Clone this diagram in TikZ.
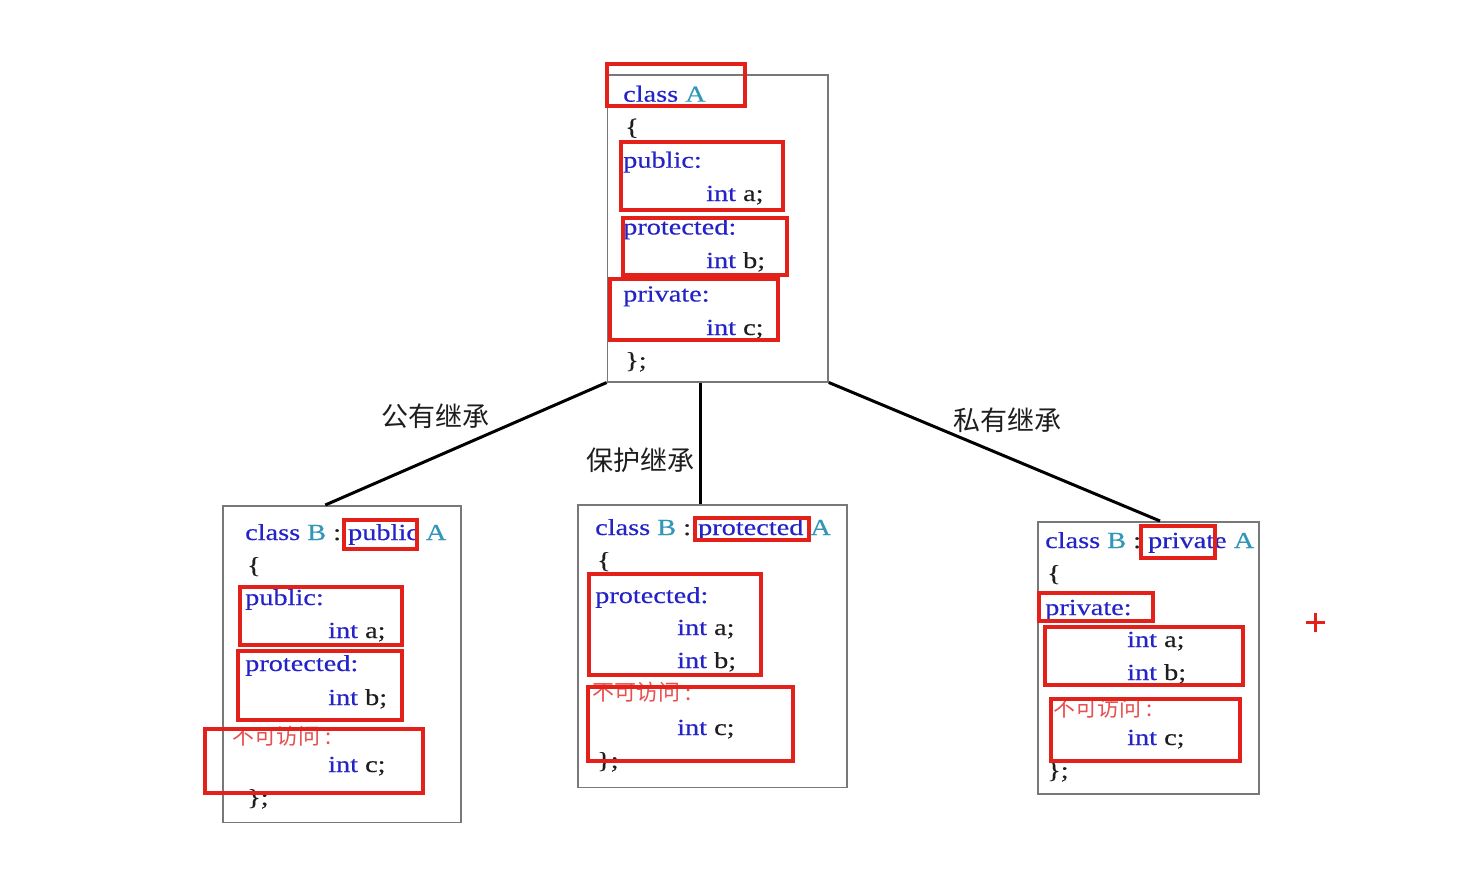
\documentclass[tikz,border=0pt]{standalone}
\usepackage{fontspec}
\setmainfont{Liberation Serif}[FakeStretch=1.23,FakeBold=0.4]
\newfontfamily\cjk{Noto Sans CJK SC}
\usetikzlibrary{calc}
\definecolor{kw}{RGB}{35,35,200}
\definecolor{cls}{RGB}{50,150,185}
\definecolor{dk}{RGB}{30,30,30}
\definecolor{redbox}{RGB}{228,32,26}
\definecolor{cjkred}{RGB}{232,80,80}
\definecolor{border}{RGB}{120,120,120}
\tikzset{
  classbox/.style={draw=border, line width=1.5pt, inner sep=0pt, anchor=north west},
  conn/.style={draw=black, line width=3pt},
  txt/.style={anchor=base west, inner sep=0pt, text=dk, font=\fontsize{23}{28}\selectfont},
  cjktxt/.style={anchor=base west, inner sep=0pt, text=cjkred, font=\cjk\fontsize{22}{24}\selectfont},
  lbl/.style={inner sep=0pt, text=dk, font=\cjk\fontsize{27}{30}\selectfont},
  hl/.style={draw=redbox, line width=4pt},
}
\newcommand{\K}[1]{\textcolor{kw}{#1}}
\newcommand{\C}[1]{\textcolor{cls}{#1}}
\begin{document}
\begin{tikzpicture}[x=1pt,y=-1pt]
\useasboundingbox[fill=white] (0,0) rectangle (1481,880);

% class boxes
\node[classbox, minimum width=220.6pt, minimum height=306.7pt] (A) at (606.7,74.3) {};
\node[classbox, minimum width=237.7pt, minimum height=316.7pt] (B1) at (222.3,505) {};
\node[classbox, minimum width=268.7pt, minimum height=282.4pt] (B2) at (577.3,504.3) {};
\node[classbox, minimum width=221pt, minimum height=272.3pt] (B3) at (1037.3,521) {};

% connectors
\draw[conn] (A.south west) -- ([xshift=103pt]B1.north west);
\draw[conn] ([xshift=93.3pt]A.south west) -- ([xshift=122.7pt]B2.north west);
\draw[conn] (A.south east) -- ([xshift=122.7pt]B3.north west);

% connector labels
\node[lbl] (l1) at (435,416) {公有继承};
\node[lbl] (l2) at (640,460) {保护继承};
\node[lbl] (l3) at (1007,420) {私有继承};

% class A text
\node[txt] (a1) at (623,101.7) {\K{class} \C{A}};
\node[txt] (a2) at (625,134.7) {\{};
\node[txt] (a3) at (623,167.7) {\K{public:}};
\node[txt] (a4) at (706,201) {\K{int} a;};
\node[txt] (a5) at (623,234.5) {\K{protected:}};
\node[txt] (a6) at (706,268) {\K{int} b;};
\node[txt] (a7) at (623,301.5) {\K{private:}};
\node[txt] (a8) at (706,335) {\K{int} c;};
\node[txt] (a9) at (625,368) {\};};

% B1 text
\node[txt] (p1) at (245,540) {\K{class} \C{B} : \K{public} \C{A}};
\node[txt] (p2) at (247,573) {\{};
\node[txt] (p3) at (245,605) {\K{public:}};
\node[txt] (p4) at (328,638) {\K{int} a;};
\node[txt] (p5) at (245,671) {\K{protected:}};
\node[txt] (p6) at (328,705) {\K{int} b;};
\node[cjktxt] (p7) at (232,744) {不可访问\ :};
\node[txt] (p8) at (328,772) {\K{int} c;};
\node[txt] (p9) at (247,805) {\};};

% B2 text
\node[txt] (q1) at (595,535) {\K{class} \C{B} : \K{protected} \C{A}};
\node[txt] (q2) at (597,568) {\{};
\node[txt] (q3) at (595,603) {\K{protected:}};
\node[txt] (q4) at (677,635) {\K{int} a;};
\node[txt] (q5) at (677,668) {\K{int} b;};
\node[cjktxt] (q6) at (592,700) {不可访问\ :};
\node[txt] (q7) at (677,735) {\K{int} c;};
\node[txt] (q8) at (597,768) {\};};

% B3 text
\node[txt] (r1) at (1045,548) {\K{class} \C{B} : \K{private} \C{A}};
\node[txt] (r2) at (1047,581) {\{};
\node[txt] (r3) at (1045,615) {\K{private:}};
\node[txt] (r4) at (1127,647) {\K{int} a;};
\node[txt] (r5) at (1127,680) {\K{int} b;};
\node[cjktxt] (r6) at (1053,716) {不可访问\ :};
\node[txt] (r7) at (1127,745) {\K{int} c;};
\node[txt] (r8) at (1047,778) {\};};

% red highlight boxes
\draw[hl] (607,64.3) rectangle (744.7,105.7);
\draw[hl] (621.3,142) rectangle (783,209.7);
\draw[hl] (622.7,218) rectangle (787.3,274.7);
\draw[hl] (610.3,278.7) rectangle (778,339.7);

\draw[hl] (343.7,520.3) rectangle (417,548.7);
\draw[hl] (239.7,587) rectangle (402.3,644.7);
\draw[hl] (237.7,651) rectangle (402.3,719.7);
\draw[hl] (205,728.7) rectangle (423,793);

\draw[hl] (694.7,517.7) rectangle (808.7,540.3);
\draw[hl] (589.3,574.3) rectangle (761.3,674.7);
\draw[hl] (588,687) rectangle (793,761.3);

\draw[hl] (1141.3,526.3) rectangle (1214.7,558);
\draw[hl] (1039.3,593) rectangle (1153,621.3);
\draw[hl] (1045.3,627) rectangle (1243,684.7);
\draw[hl] (1051.3,698.7) rectangle (1239.7,761.3);

% plus marker
\draw[draw=redbox, line width=3pt] (1306,622) -- (1325,622) (1315.5,612.5) -- (1315.5,631.5);
\end{tikzpicture}
\end{document}
